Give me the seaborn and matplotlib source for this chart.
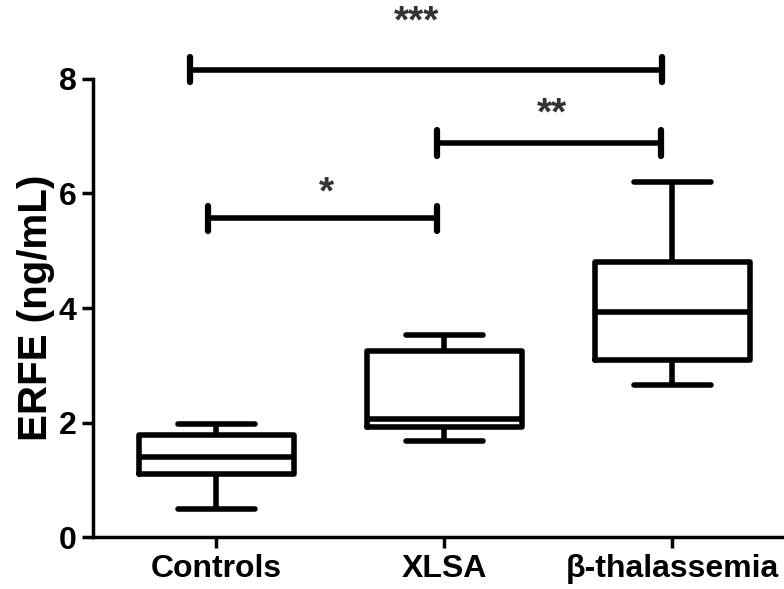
import pandas as pd
import seaborn as sns
import matplotlib.pyplot as plt

groups = ['Controls', 'XLSA', 'β-thalassemia']
# five-number summaries: min, Q1, median, Q3, max
controls = [0.49, 1.10, 1.40, 1.78, 1.97]
xlsa = [1.68, 1.92, 2.06, 3.25, 3.53]
bthal = [2.65, 3.09, 3.93, 4.80, 6.20]

# significance brackets
sig_from = [-0.035, 0.966, -0.114]
sig_to = [0.966, 1.949, 1.954]
sig_y = [5.57, 6.88, 8.16]
sig_labels = ['*', '**', '***']
star_x = [0.481, 1.473, 0.878]
star_y = [6.10, 7.48, 9.08]

df = pd.DataFrame({
    'group': [groups[0]] * 5 + [groups[1]] * 5 + [groups[2]] * 5,
    'ERFE': controls + xlsa + bthal,
})

sns.set_style('white')
plt.rcParams['font.family'] = ['Liberation Sans', 'DejaVu Sans']
plt.rcParams['text.color'] = 'black'
plt.rcParams['axes.labelcolor'] = 'black'
plt.rcParams['xtick.color'] = 'black'
plt.rcParams['ytick.color'] = 'black'

fig = plt.figure(figsize=(7.84, 5.89), dpi=100)
ax = fig.add_axes([0.119, 0.088, 0.881, 0.778])

sns.boxplot(
    ax=ax,
    data=df,
    x='group',
    y='ERFE',
    order=groups,
    whis=(0, 100),
    fill=False,
    color='black',
    linewidth=4,
    width=0.68,
)

for x0, x1, y in zip(sig_from, sig_to, sig_y):
    ax.plot([x0, x1], [y, y], color='black', lw=4, clip_on=False,
            solid_capstyle='butt')
    for xx in (x0, x1):
        ax.plot([xx, xx], [y - 0.22, y + 0.22], color='black', lw=4.5,
                clip_on=False, solid_capstyle='round')

# glyph centre of an asterisk sits ~0.1 above the text anchor
for sx, sy, lab in zip(star_x, star_y, sig_labels):
    ax.text(sx, sy - 0.1, lab, ha='center', va='center',
            fontsize=28, color='#333333', fontweight='bold')

ax.set_ylim(0, 8)
ax.set_xlim(-0.54, 2.49)
ax.set_yticks([0, 2, 4, 6, 8])
ax.set_xlabel('')
ax.set_ylabel('ERFE (ng/mL)', fontsize=29, fontweight='bold', labelpad=3)
ax.tick_params(axis='both', direction='out', length=8, width=2.5,
               color='black', pad=4)
ax.tick_params(axis='x', bottom=True, labelsize=23)
ax.tick_params(axis='y', left=True, labelsize=23)
for lab in ax.get_xticklabels() + ax.get_yticklabels():
    lab.set_fontweight('bold')

sns.despine(ax=ax)
for side in ('left', 'bottom'):
    ax.spines[side].set_linewidth(2.5)
    ax.spines[side].set_color('black')

fig.savefig('out.png', dpi=100)
